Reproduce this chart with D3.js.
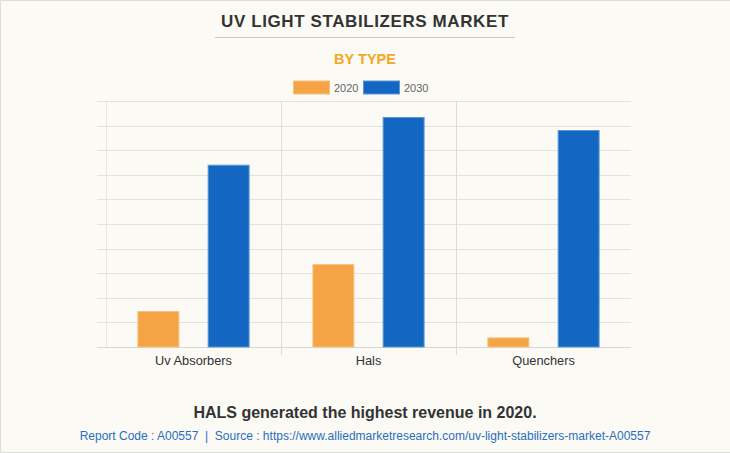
<!DOCTYPE html>
<html><head><meta charset="utf-8">
<script src="https://cdn.jsdelivr.net/npm/d3@7"></script>
<style>
html,body{margin:0;padding:0;background:#fbfaf5;}
svg{display:block;font-family:"Liberation Sans",Arial,sans-serif;}
</style></head>
<body><svg id="c" width="730" height="453"></svg>
<script>
const categories = ["Uv Absorbers", "Hals", "Quenchers"];
const seriesNames = ["2020", "2030"];
const values2020 = [146, 337, 39];
const values2030 = [741, 935, 882];
const yTicks = [0,100,200,300,400,500,600,700,800,900,1000];
const colors = ["#f4a444", "#1366c1"];

const svg = d3.select("#c");
const W = 730, H = 453;
svg.append("rect").attr("width", W).attr("height", H).attr("fill", "#fbfaf5");
svg.append("path").attr("d", `M${W},0.5H0.5V${H-0.5}H${W}`).attr("fill","none").attr("stroke","#dcdcdc").attr("stroke-width",1);

const m = {l:106, r:631, t:101, b:347};
const x0 = d3.scaleBand().domain(categories).range([m.l, m.r]).padding(0);
const x1 = d3.scaleBand().domain(seriesNames).range([0, x0.bandwidth()]).paddingInner(0.403).paddingOuter(0.447);
const y = d3.scaleLinear().domain([0, 1000]).range([m.b, m.t]);

const g = svg.append("g");
g.selectAll("line.h").data(yTicks).join("line")
  .attr("x1", 97).attr("x2", m.r)
  .attr("y1", d => Math.round(y(d)) + 0.5).attr("y2", d => Math.round(y(d)) + 0.5)
  .attr("stroke", d => d === 0 ? "#d6d6d6" : "#e3e2de").attr("stroke-width", 1);
const seps = categories.map(c => x0(c));
g.selectAll("line.v").data(seps).join("line")
  .attr("x1", d => Math.round(d) + 0.5).attr("x2", d => Math.round(d) + 0.5)
  .attr("y1", m.t).attr("y2", (d, i) => i === 0 ? m.b : m.b + 8)
  .attr("stroke", (d, i) => i === 0 ? "#e6e5e1" : "#dddcd8").attr("stroke-width", 1);

const data = categories.map((c, i) => ({cat: c, vals: [values2020[i], values2030[i]]}));
const grp = svg.append("g").selectAll("g").data(data).join("g")
  .attr("transform", d => `translate(${x0(d.cat)},0)`);
grp.selectAll("rect").data(d => d.vals.map((v, j) => ({v, s: seriesNames[j], j}))).join("rect")
  .attr("x", d => x1(d.s) + 0.5)
  .attr("y", d => y(d.v) + 0.5)
  .attr("width", x1.bandwidth() - 1)
  .attr("height", d => m.b - y(d.v) - 0.5)
  .attr("fill", d => colors[d.j])
  .attr("stroke", d => d.j === 0 ? "#f7c07e" : "#5d97d6")
  .attr("stroke-width", 1);

const xa = svg.append("g").attr("transform", `translate(0,${m.b})`)
  .call(d3.axisBottom(x0).tickSize(0).tickPadding(9));
xa.select(".domain").remove();
xa.selectAll("text").attr("font-size", 12.8).attr("fill", "#333")
  .attr("font-family", "'Liberation Sans', Arial, sans-serif");

svg.append("text").attr("x", 365).attr("y", 27).attr("text-anchor", "middle")
  .attr("font-size", 17).attr("font-weight", "bold").attr("fill", "#333")
  .attr("letter-spacing", 0.6)
  .text("UV LIGHT STABILIZERS MARKET");
svg.append("line").attr("x1", 215).attr("x2", 515).attr("y1", 37.5).attr("y2", 37.5)
  .attr("stroke", "#c8c8c8").attr("stroke-width", 1);
svg.append("text").attr("x", 365).attr("y", 64).attr("text-anchor", "middle")
  .attr("font-size", 14.5).attr("font-weight", "bold").attr("fill", "#f5a623")
  .text("BY TYPE");

const leg = svg.append("g");
const legX = [293.5, 363.5];
seriesNames.forEach((s, i) => {
  leg.append("rect").attr("x", legX[i]).attr("y", 81).attr("width", 36).attr("height", 13)
    .attr("fill", colors[i]).attr("stroke", i === 0 ? "#f7c07e" : "#5d97d6");
  leg.append("text").attr("x", legX[i] + 40.5).attr("y", 91.5)
    .attr("font-size", 11).attr("fill", "#666").text(s);
});

svg.append("text").attr("x", 365).attr("y", 418).attr("text-anchor", "middle")
  .attr("font-size", 16).attr("font-weight", "bold").attr("fill", "#333")
  .text("HALS generated the highest revenue in 2020.");
svg.append("text").attr("x", 365).attr("y", 440).attr("text-anchor", "middle")
  .attr("font-size", 12).attr("fill", "#2a6ebb")
  .text("Report Code : A00557  |  Source : https://www.alliedmarketresearch.com/uv-light-stabilizers-market-A00557")
  .attr("xml:space", "preserve").style("white-space", "pre");
</script></body></html>
